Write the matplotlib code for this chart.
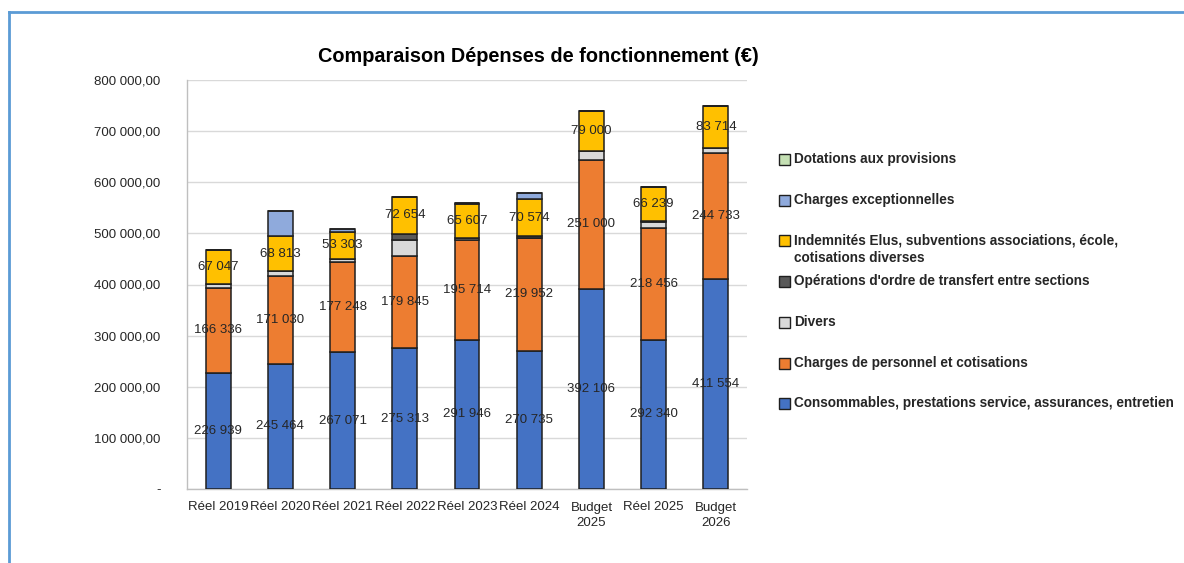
import matplotlib.pyplot as plt
import matplotlib.patches as patches
from matplotlib.lines import Line2D
import numpy as np

plt.rcParams['font.family'] = ['Liberation Sans', 'DejaVu Sans']

categories = ['Réel 2019', 'Réel 2020', 'Réel 2021', 'Réel 2022', 'Réel 2023',
              'Réel 2024', 'Budget\n2025', 'Réel 2025', 'Budget\n2026']
consommables = [226939, 245464, 267071, 275313, 291946, 270735, 392106, 292340, 411554]
personnel = [166336, 171030, 177248, 179845, 195714, 219952, 251000, 218456, 244733]
divers = [8000, 9000, 6000, 32000, 4000, 0, 18000, 12000, 10000]
operations = [0, 0, 0, 12000, 0, 5000, 0, 2000, 0]
indemnites = [67047, 68813, 53303, 72654, 65607, 70574, 79000, 66239, 83714]
exceptionnelles = [0, 50000, 5000, 0, 2000, 12000, 0, 0, 0]
dotations = [0, 0, 0, 0, 0, 0, 0, 0, 0]

series = [
    ('Consommables, prestations service, assurances, entretien', consommables, '#4472C4', True),
    ('Charges de personnel et cotisations', personnel, '#ED7D31', True),
    ('Divers', divers, '#D9D9D9', False),
    ("Opérations d'ordre de transfert entre sections", operations, '#595959', False),
    ('Indemnités Elus, subventions associations, école,\ncotisations diverses', indemnites, '#FFC000', True),
    ('Charges exceptionnelles', exceptionnelles, '#8FAADC', False),
    ('Dotations aux provisions', dotations, '#C5E0B4', False),
]

W, H = 1184, 563
fig = plt.figure(figsize=(W / 100, H / 100), dpi=100)
ax = fig.add_axes([187 / W, 1 - 489 / H, (747 - 187) / W, (489 - 80) / H])

x = np.arange(len(categories))
bottom = np.zeros(len(categories))
for name, vals, col, lab in series:
    vals = np.array(vals, dtype=float)
    bars = ax.bar(x, vals, 0.4, bottom=bottom, color=col, edgecolor='#1f1f1f',
                  linewidth=1.1, zorder=3)
    if lab:
        ax.bar_label(bars, labels=[f"{int(v):,}".replace(',', ' ') for v in vals],
                     label_type='center', fontsize=9.5, color='#262626', zorder=4)
    bottom += vals

ax.set_xlim(-0.5, len(categories) - 0.5)
ax.set_ylim(0, 800000)
yt = np.arange(0, 800001, 100000)
ax.set_yticks(yt)
ax.set_yticklabels(['-'] + [f"{v:,}".replace(',', ' ') + ',00' for v in yt[1:]])
ax.set_xticks(x)
ax.set_xticklabels(categories, linespacing=1.4)
ax.tick_params(axis='y', length=0, pad=19, labelsize=9.5, labelcolor='#262626')
ax.tick_params(axis='x', length=0, pad=9, labelsize=9.5, labelcolor='#262626')
ax.grid(axis='y', color='#D9D9D9', linewidth=1, zorder=0)
for s in ['top', 'right']:
    ax.spines[s].set_visible(False)
for s in ['left', 'bottom']:
    ax.spines[s].set_color('#BFBFBF')
    ax.spines[s].set_linewidth(1)

fig.text(538 / W, 1 - 57 / H, 'Comparaison Dépenses de fonctionnement (€)',
         ha='center', va='center', fontsize=14.3, fontweight='bold')

# legende a droite, ordre inverse de l'empilement
for i, (name, vals, col, lab) in enumerate(series[::-1]):
    yc = 159.5 + i * 40.7
    fig.add_artist(patches.Rectangle((779 / W, 1 - (yc + 5.5) / H), 11 / W, 11 / H,
                                     transform=fig.transFigure, facecolor=col,
                                     edgecolor='#1f1f1f', linewidth=1))
    fig.text(794 / W, 1 - (yc - 7.5) / H, name, ha='left', va='top',
             fontsize=9.8, fontweight='bold', color='#262626', linespacing=1.3)

# cadre bleu du graphique
fig.add_artist(Line2D([9 / W, 1183 / W], [1 - 12 / H, 1 - 12 / H],
                      transform=fig.transFigure, color='#5B9BD5', linewidth=2))
fig.add_artist(Line2D([9 / W, 9 / W], [1 - 12 / H, 0],
                      transform=fig.transFigure, color='#5B9BD5', linewidth=2))

fig.savefig('out.png', dpi=100)
